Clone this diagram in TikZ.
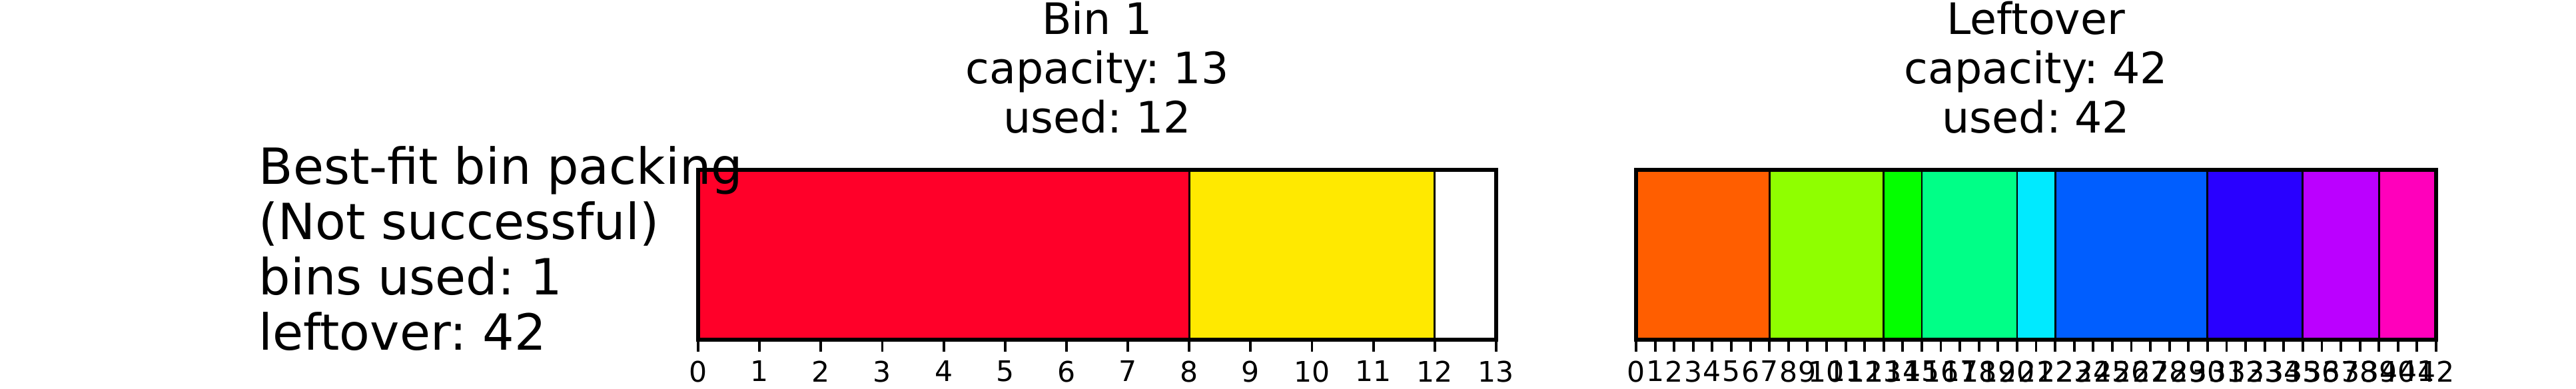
\documentclass[tikz,border=0pt]{standalone}
\usepackage{fontspec}
\setmainfont{DejaVu Sans}
\usepackage{xcolor}
\usepackage{tikz}
\usetikzlibrary{positioning}
\frenchspacing

\definecolor{itemred}{HTML}{FF0029}
\definecolor{itemyellow}{HTML}{FFE900}
\definecolor{itemorange}{HTML}{FF5E00}
\definecolor{itemlime}{HTML}{8FFF00}
\definecolor{itemgreen}{HTML}{04FF00}
\definecolor{itemspring}{HTML}{00FF87}
\definecolor{itemcyan}{HTML}{00EAFF}
\definecolor{itemblue}{HTML}{005EFF}
\definecolor{itemindigo}{HTML}{2900FF}
\definecolor{itemviolet}{HTML}{BB00FF}
\definecolor{itemmagenta}{HTML}{FF00BB}

\begin{document}
\begin{tikzpicture}[
    item/.style={draw=black, line width=0.8pt},
    frame/.style={draw=black, line width=1.9pt},
    tick/.style={black, line width=1.1pt},
    ticklabel/.style={below, inner sep=0pt, yshift=-0.12cm, font=\fontsize{12.1pt}{14pt}\selectfont},
    title/.style={align=center, inner sep=0pt, font=\fontsize{18.5pt}{21.05pt}\selectfont},
    summary/.style={align=left, inner sep=0pt, font=\fontsize{21.3pt}{23.7pt}\selectfont}
]
    \useasboundingbox (0,0) rectangle (38.67,5.84);

    % Bin 1
    \begin{scope}[shift={(10.48,0.74)}, x=0.9215cm, y=2.55cm]
        \foreach \a/\b/\c in {0/8/itemred, 8/12/itemyellow, 12/13/white}
            \draw[item, fill=\c] (\a,0) rectangle (\b,1);
        \foreach \t in {0,...,13}
            \draw[tick] (\t,0) -- ++(0,-0.18cm) node[ticklabel] {\t};
        \draw[frame] (0,0) rectangle (13,1);
        \coordinate (bintop) at (6.5,1);
    \end{scope}

    % Leftover
    \begin{scope}[shift={(24.56,0.74)}, x=0.28595cm, y=2.55cm]
        \foreach \a/\b/\c in {0/7/itemorange, 7/13/itemlime, 13/15/itemgreen,
                15/20/itemspring, 20/22/itemcyan, 22/30/itemblue,
                30/35/itemindigo, 35/39/itemviolet, 39/42/itemmagenta}
            \draw[item, fill=\c] (\a,0) rectangle (\b,1);
        \foreach \t in {0,...,42}
            \draw[tick] (\t,0) -- ++(0,-0.18cm) node[ticklabel] {\t};
        \draw[frame] (0,0) rectangle (42,1);
        \coordinate (lefttop) at (21,1);
    \end{scope}

    % Titles
    \node[title, above=0.54cm of bintop] (bintitle) {Bin 1\\capacity: 13\\used: 12};
    \node[title, above=0.54cm of lefttop] (lefttitle) {Leftover\\capacity: 42\\used: 42};

    \node[summary, anchor=base west] (result) at (3.88,0.58)
        {Best-fit bin packing\\(Not successful)\\bins used: 1\\leftover: 42};

\end{tikzpicture}
\end{document}
